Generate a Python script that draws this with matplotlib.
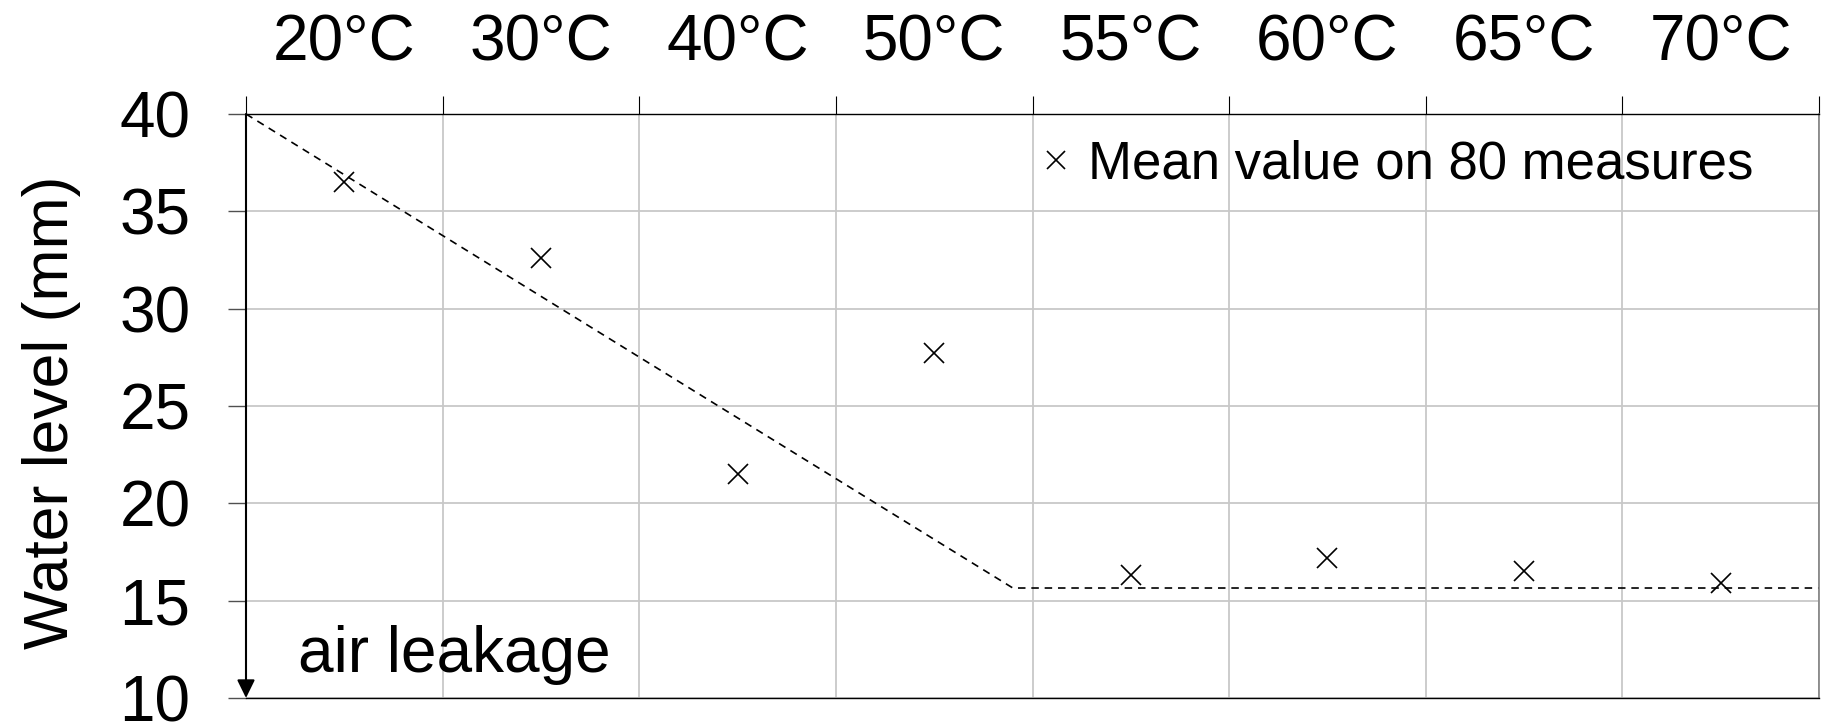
import matplotlib
matplotlib.use('Agg')
import matplotlib.pyplot as plt
import numpy as np

# categories (top axis) and mean water level per temperature
temps = ['20°C', '30°C', '40°C', '50°C', '55°C', '60°C', '65°C', '70°C']
water_level = [36.5, 32.6, 21.5, 27.7, 16.3, 17.2, 16.5, 15.9]

# dashed trend: linear drop then plateau
trend_x = [0, 3.9, 8]
trend_y = [40, 15.65, 15.65]

yticks = [10, 15, 20, 25, 30, 35, 40]

plt.rcParams['font.family'] = ['Liberation Sans', 'DejaVu Sans']

fig = plt.figure(figsize=(18.25, 7.28), dpi=100)
ax = fig.add_axes([246 / 1825, 1 - 698 / 728, 1573 / 1825, 584 / 728])

x = np.arange(len(temps)) + 0.5
ax.plot(x, water_level, 'x', color='black', ms=14.5, mew=1.2,
        label='Mean value on 80 measures', zorder=3)
ax.plot(trend_x, trend_y, color='black', lw=1.2, dashes=(4.5, 3.5),
        clip_on=False, zorder=2)

ax.set_xlim(0, len(temps))
ax.set_ylim(10, 40)

# top axis: ticks on column borders, labels at column centres
ax.xaxis.tick_top()
ax.set_xticks(np.arange(len(temps) + 1))
ax.set_xticks(x, minor=True)
ax.set_xticklabels(temps, minor=True)
ax.tick_params(axis='x', which='major', length=13, width=0.8, color='black',
               labeltop=False, labelbottom=False, bottom=False)
ax.tick_params(axis='x', which='minor', length=0, pad=29, labelsize=46,
               bottom=False, labelbottom=False)

ax.set_yticks(yticks)
ax.tick_params(axis='y', length=13, width=1.0, color='#505050', pad=27,
               labelsize=46)

ax.grid(True, which='major', color='#c8c8c8', lw=1.3)
ax.set_axisbelow(True)

for s in ['top', 'bottom']:
    ax.spines[s].set_color('black')
    ax.spines[s].set_linewidth(1.0)
ax.spines['right'].set_color('#808080')
ax.spines['right'].set_linewidth(1.2)
ax.spines['left'].set_visible(False)

# left axis drawn as a downward arrow
ax.annotate('', xy=(0, 10), xytext=(0, 40),
            arrowprops=dict(arrowstyle='-|>,head_length=0.55,head_width=0.27',
                            color='black', lw=1.5, mutation_scale=20,
                            shrinkA=0, shrinkB=0),
            annotation_clip=False)
ax.text(0.265, 11.34, 'air leakage', fontsize=46, va='baseline', ha='left')

ax.set_ylabel('Water level (mm)', fontsize=45)
ax.yaxis.set_label_coords(-0.1049, 0.4897)

ax.legend(loc='center left', bbox_to_anchor=(0.505, 0.914), frameon=False,
          fontsize=38, handlelength=0.6, handletextpad=0.3, borderpad=0,
          borderaxespad=0, numpoints=1, markerscale=0.85)

fig.savefig('out.png', dpi=100)
